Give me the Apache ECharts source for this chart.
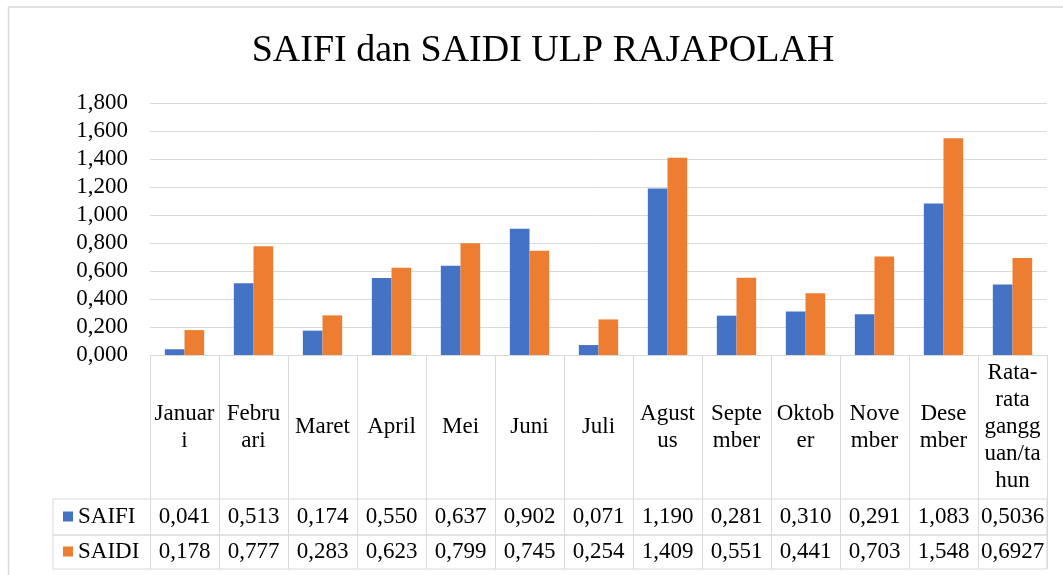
<!DOCTYPE html>
<html>
<head>
<meta charset="utf-8">
<script src="https://cdn.jsdelivr.net/npm/echarts@6/dist/echarts.min.js"></script>
<style>
  html, body { margin: 0; padding: 0; background: #fff; }
  #chart { width: 1063px; height: 575px; }
</style>
</head>
<body>
<div id="chart"></div>
<script>
// data
const categories = ['Januari', 'Februari', 'Maret', 'April', 'Mei', 'Juni', 'Juli',
  'Agustus', 'September', 'Oktober', 'November', 'Desember', 'Rata-rata gangguan/tahun'];
// header cells wrap like the original table
const headerLabels = ['Januar\ni', 'Febru\nari', 'Maret', 'April', 'Mei', 'Juni', 'Juli',
  'Agust\nus', 'Septe\nmber', 'Oktob\ner', 'Nove\nmber', 'Dese\nmber', 'Rata-\nrata\ngangg\nuan/ta\nhun'];
const saifi = [0.041, 0.513, 0.174, 0.550, 0.637, 0.902, 0.071, 1.190, 0.281, 0.310, 0.291, 1.083, 0.5036];
const saidi = [0.178, 0.777, 0.283, 0.623, 0.799, 0.745, 0.254, 1.409, 0.551, 0.441, 0.703, 1.548, 0.6927];
const yTicks = { min: 0, max: 1.8, interval: 0.2 };

const FONT = 'Liberation Serif';
const FS = 23;
const LINE = '#d9d9d9';

// 0.55 -> "0,550", 0.5036 -> "0,5036"
function fmt(v) {
  const dec = (String(v).split('.')[1] || '').length;
  return v.toFixed(Math.max(3, dec)).replace('.', ',');
}

const chart = echarts.init(document.getElementById('chart'));

const hiddenAxis = (type, grid) => ({ type: type, gridIndex: grid, show: false,
  data: type === 'category' ? categories : undefined });

const option = {
  animation: false,
  title: {
    text: 'SAIFI dan SAIDI ULP RAJAPOLAH',
    left: 538,
    top: 27,
    textAlign: 'center',
    textStyle: { fontFamily: FONT, fontSize: 38, fontWeight: 'normal', color: '#000' }
  },
  legend: {
    orient: 'vertical',
    left: 58,
    top: 500,
    itemWidth: 10,
    itemHeight: 10,
    itemGap: 12,
    icon: 'rect',
    textStyle: { fontFamily: FONT, fontSize: FS, color: '#000' }
  },
  graphic: [{
    type: 'rect',
    shape: { x: 8.5, y: 7, width: 1100, height: 600 },
    style: { fill: 'none', stroke: LINE, lineWidth: 1.5 },
    silent: true
  }],
  grid: [
    { left: 150, top: 103, width: 897, height: 252 },          // plot
    { left: 150, top: 355, width: 897, height: 214 },          // table columns
    { left: 53, top: 499, width: 994, height: 36, show: true, borderColor: LINE, borderWidth: 1 },
    { left: 53, top: 535, width: 994, height: 34, show: true, borderColor: LINE, borderWidth: 1 }
  ],
  xAxis: [
    {
      type: 'category', gridIndex: 0, position: 'bottom', data: categories,
      axisLine: { show: true, lineStyle: { color: LINE, width: 1 } },
      axisTick: { show: false },
      axisLabel: {
        interval: 0, margin: 72, verticalAlign: 'middle', lineHeight: 27,
        fontFamily: FONT, fontSize: FS, color: '#000',
        formatter: (v, i) => headerLabels[i]
      }
    },
    {
      type: 'category', gridIndex: 0, position: 'bottom', data: categories,
      axisLine: { show: false }, axisTick: { show: false },
      axisLabel: {
        interval: 0, margin: 162, verticalAlign: 'middle',
        fontFamily: FONT, fontSize: FS, color: '#000',
        formatter: (v, i) => fmt(saifi[i])
      }
    },
    {
      type: 'category', gridIndex: 0, position: 'bottom', data: categories,
      axisLine: { show: false }, axisTick: { show: false },
      axisLabel: {
        interval: 0, margin: 197, verticalAlign: 'middle',
        fontFamily: FONT, fontSize: FS, color: '#000',
        formatter: (v, i) => fmt(saidi[i])
      }
    },
    {
      type: 'category', gridIndex: 1, data: categories,
      axisLine: { show: false }, axisTick: { show: false }, axisLabel: { show: false },
      splitLine: { show: true, interval: 0, lineStyle: { color: LINE, width: 1 } }
    },
    hiddenAxis('category', 2),
    hiddenAxis('category', 3)
  ],
  yAxis: [
    {
      type: 'value', gridIndex: 0,
      min: yTicks.min, max: yTicks.max, interval: yTicks.interval,
      axisLine: { show: false }, axisTick: { show: false },
      axisLabel: {
        margin: 22, fontFamily: FONT, fontSize: FS, color: '#000',
        formatter: v => v.toFixed(3).replace('.', ',')
      },
      splitLine: { lineStyle: { color: LINE, width: 1 } }
    },
    hiddenAxis('value', 1),
    hiddenAxis('value', 2),
    hiddenAxis('value', 3)
  ],
  series: [
    {
      name: 'SAIFI', type: 'bar', xAxisIndex: 0, yAxisIndex: 0,
      data: saifi, barGap: '0%', barCategoryGap: '43%',
      itemStyle: { color: '#4472c4' }
    },
    {
      name: 'SAIDI', type: 'bar', xAxisIndex: 0, yAxisIndex: 0,
      data: saidi, barGap: '0%', barCategoryGap: '43%',
      itemStyle: { color: '#ed7d31' }
    }
  ]
};

chart.setOption(option);
</script>
</body>
</html>
